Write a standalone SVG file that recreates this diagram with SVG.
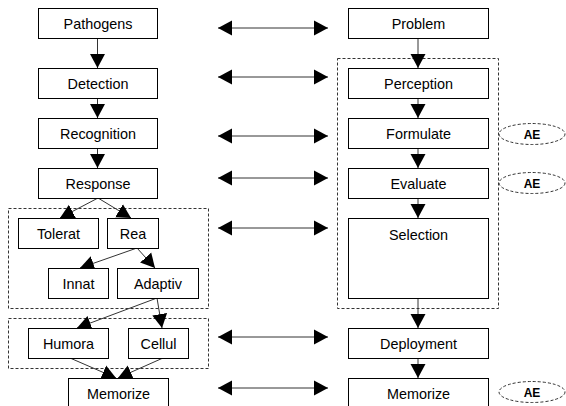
<svg xmlns="http://www.w3.org/2000/svg" width="566" height="406" viewBox="0 0 566 406">
<defs>
<marker id="ah" markerUnits="userSpaceOnUse" markerWidth="15" markerHeight="16" refX="14" refY="7.5" orient="auto" viewBox="0 0 15 15">
<path d="M0,0 L14,7.5 L0,15 z" fill="#000"/>
</marker>
<marker id="as" markerUnits="userSpaceOnUse" markerWidth="15" markerHeight="16" refX="14" refY="7.5" orient="auto-start-reverse" viewBox="0 0 15 15">
<path d="M0,0 L14,7.5 L0,15 z" fill="#000"/>
</marker>
<style>
.b{fill:#fff;stroke:#000;stroke-width:1}
.t{font-family:"Liberation Sans",Arial,sans-serif;font-size:14.4px;fill:#000;text-anchor:middle}
.ae{font-family:"Liberation Sans",Arial,sans-serif;font-size:12px;font-weight:bold;fill:#000;text-anchor:middle}
.d{fill:none;stroke:#333;stroke-width:1;stroke-dasharray:3,2}
.c{fill:none;stroke:#333;stroke-width:1;marker-end:url(#ah)}
.dd{fill:none;stroke:#333;stroke-width:1;marker-end:url(#as);marker-start:url(#as)}
</style>
</defs>
<g id="containers">
<rect class="d" x="337.5" y="58.5" width="161" height="250"/>
<rect class="d" x="8.5" y="208.5" width="200" height="100"/>
<rect class="d" x="8.5" y="318.5" width="200" height="50"/>
</g>
<g id="connectors">
<line class="c" x1="97.5" y1="38" x2="97.5" y2="68"/>
<line class="c" x1="97.5" y1="98" x2="97.5" y2="118"/>
<line class="c" x1="97.5" y1="148" x2="97.5" y2="168"/>
<line class="c" x1="98" y1="198" x2="60" y2="218"/>
<line class="c" x1="98" y1="198" x2="131" y2="218"/>
<line class="c" x1="137" y1="248" x2="80" y2="268"/>
<line class="c" x1="137" y1="248" x2="155" y2="268"/>
<line class="c" x1="157" y1="298" x2="77" y2="328"/>
<line class="c" x1="157" y1="298" x2="162" y2="328"/>
<line class="c" x1="70" y1="358" x2="116" y2="378"/>
<line class="c" x1="163" y1="358" x2="118" y2="378"/>
<line class="c" x1="418" y1="38" x2="418" y2="68"/>
<line class="c" x1="418" y1="98" x2="418" y2="118"/>
<line class="c" x1="418" y1="148" x2="418" y2="168"/>
<line class="c" x1="418" y1="198" x2="418" y2="218"/>
<line class="c" x1="418" y1="298" x2="418" y2="328"/>
<line class="c" x1="418" y1="358" x2="418" y2="378"/>
<line class="dd" x1="218" y1="28" x2="328" y2="28"/>
<line class="dd" x1="218" y1="77" x2="328" y2="77"/>
<line class="dd" x1="218" y1="136" x2="328" y2="136"/>
<line class="dd" x1="218" y1="178" x2="328" y2="178"/>
<line class="dd" x1="218" y1="228" x2="328" y2="228"/>
<line class="dd" x1="218" y1="337" x2="328" y2="337"/>
<line class="dd" x1="218" y1="388" x2="328" y2="388"/>
</g>
<g id="pathogens"><rect class="b" x="38.5" y="8.5" width="119" height="30"/><text class="t" x="98" y="28.5">Pathogens</text></g>
<g id="detection"><rect class="b" x="38.5" y="68.5" width="119" height="30"/><text class="t" x="98" y="88.5">Detection</text></g>
<g id="recognition"><rect class="b" x="38.5" y="118.5" width="119" height="30"/><text class="t" x="98" y="138.5">Recognition</text></g>
<g id="response"><rect class="b" x="38.5" y="168.5" width="119" height="30"/><text class="t" x="98" y="188.5">Response</text></g>
<g id="tolerat"><rect class="b" x="18.5" y="218.5" width="80" height="30"/><text class="t" x="58.5" y="238.5">Tolerat</text></g>
<g id="rea"><rect class="b" x="107.5" y="218.5" width="51" height="30"/><text class="t" x="133" y="238.5">Rea</text></g>
<g id="innat"><rect class="b" x="48.5" y="268.5" width="60" height="30"/><text class="t" x="78.5" y="288.5">Innat</text></g>
<g id="adaptiv"><rect class="b" x="117.5" y="268.5" width="81" height="30"/><text class="t" x="158" y="288.5">Adaptiv</text></g>
<g id="humora"><rect class="b" x="28.5" y="328.5" width="80" height="30"/><text class="t" x="68.5" y="348.5">Humora</text></g>
<g id="cellul"><rect class="b" x="128.5" y="328.5" width="60" height="30"/><text class="t" x="158.5" y="348.5">Cellul</text></g>
<g id="memorize-left"><rect class="b" x="68.5" y="378.5" width="100" height="40"/><text class="t" x="118.5" y="398.5">Memorize</text></g>
<g id="problem"><rect class="b" x="348.5" y="8.5" width="140" height="30"/><text class="t" x="418.5" y="28.5">Problem</text></g>
<g id="perception"><rect class="b" x="348.5" y="68.5" width="140" height="30"/><text class="t" x="418.5" y="88.5">Perception</text></g>
<g id="formulate"><rect class="b" x="348.5" y="118.5" width="140" height="30"/><text class="t" x="418.5" y="138.5">Formulate</text></g>
<g id="evaluate"><rect class="b" x="348.5" y="168.5" width="140" height="30"/><text class="t" x="418.5" y="188.5">Evaluate</text></g>
<g id="selection"><rect class="b" x="348.5" y="218.5" width="140" height="80"/><text class="t" x="418.5" y="240">Selection</text></g>
<g id="deployment"><rect class="b" x="348.5" y="328.5" width="140" height="30"/><text class="t" x="418.5" y="348.5">Deployment</text></g>
<g id="memorize-right"><rect class="b" x="348.5" y="378.5" width="140" height="40"/><text class="t" x="418.5" y="398.5">Memorize</text></g>
<g id="ae1"><ellipse class="d" cx="532" cy="134" rx="33" ry="10.5"/><text class="ae" x="532" y="138.5">AE</text></g>
<g id="ae2"><ellipse class="d" cx="532" cy="183" rx="33" ry="10.5"/><text class="ae" x="532" y="187.5">AE</text></g>
<g id="ae3"><ellipse class="d" cx="532" cy="392" rx="33" ry="10.5"/><text class="ae" x="532" y="396.5">AE</text></g>
</svg>
